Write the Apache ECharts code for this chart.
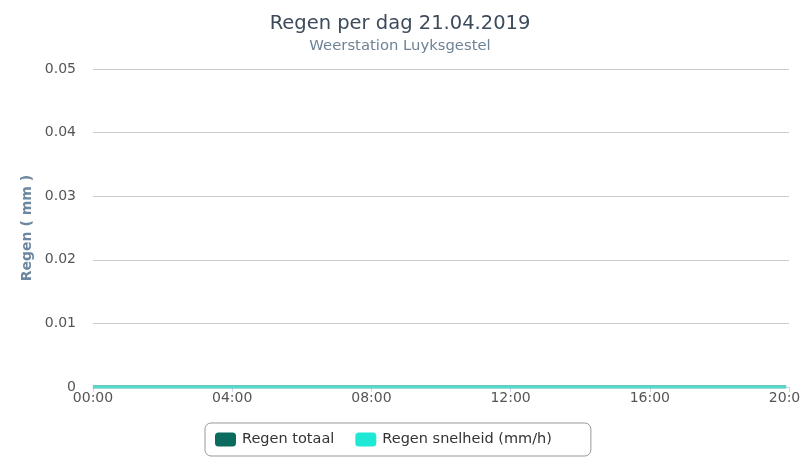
<!DOCTYPE html>
<html>
<head>
<meta charset="utf-8">
<script src="https://cdn.jsdelivr.net/npm/echarts@6/dist/echarts.min.js"></script>
<style>html,body{margin:0;padding:0;background:#fff}#c{width:800px;height:475px}</style>
</head>
<body>
<div id="c"></div>
<script>
var titleText = 'Regen per dag 21.04.2019';
var subtitleText = 'Weerstation Luyksgestel';
var yTicks = ['0', '0.01', '0.02', '0.03', '0.04', '0.05'];
var xTicks = ['00:00', '04:00', '08:00', '12:00', '16:00', '20:00'];
var times = ['00:00','00:30','01:00','01:30','02:00','02:30','03:00','03:30','04:00','04:30',
  '05:00','05:30','06:00','06:30','07:00','07:30','08:00','08:30','09:00','09:30',
  '10:00','10:30','11:00','11:30','12:00','12:30','13:00','13:30','14:00','14:30',
  '15:00','15:30','16:00','16:30','17:00','17:30','18:00','18:30','19:00','19:30','19:55'];
var regenTotaal = [0,0,0,0,0,0,0,0,0,0,0,0,0,0,0,0,0,0,0,0,0,0,0,0,0,0,0,0,0,0,0,0,0,0,0,0,0,0,0,0,0];
var regenSnelheid = [0,0,0,0,0,0,0,0,0,0,0,0,0,0,0,0,0,0,0,0,0,0,0,0,0,0,0,0,0,0,0,0,0,0,0,0,0,0,0,0,0];

function toHours(t) { var p = t.split(':'); return +p[0] + (+p[1]) / 60; }
function pairs(vals) { return times.map(function (t, i) { return [toHours(t), vals[i]]; }); }

var font = 'DejaVu Sans';
var chart = echarts.init(document.getElementById('c'), null, { renderer: 'canvas' });
chart.setOption({
  animation: false,
  backgroundColor: '#fff',
  textStyle: { fontFamily: font },
  title: {
    text: titleText,
    subtext: subtitleText,
    left: 'center',
    top: 9,
    itemGap: 5,
    textStyle: { fontFamily: font, fontSize: 19.5, fontWeight: 'normal', color: '#3d4a5b' },
    subtextStyle: { fontFamily: font, fontSize: 14.8, color: '#6e8396' }
  },
  legend: {
    bottom: 19,
    left: 205,
    icon: 'roundRect',
    itemWidth: 21,
    itemHeight: 14,
    itemGap: 21,
    borderColor: '#999',
    borderWidth: 1,
    borderRadius: 6,
    padding: [9, 39, 9, 10],
    textStyle: { fontFamily: font, fontSize: 14.5, color: '#333', padding: [0, 0, 0, 1] },
    data: [
      { name: 'Regen totaal', itemStyle: { color: '#0a6b5e' } },
      { name: 'Regen snelheid (mm/h)', itemStyle: { color: '#1ee8d6' } }
    ]
  },
  grid: { left: 93, right: 11, top: 69, bottom: 88, containLabel: false, outerBoundsMode: 'none' },
  xAxis: {
    type: 'value',
    min: 0, max: 20, interval: 4,
    axisLine: { show: true, lineStyle: { color: '#ccd6eb', width: 1 } },
    axisTick: { show: true, length: 5, lineStyle: { color: '#ccd6eb' } },
    splitLine: { show: false },
    axisLabel: {
      fontFamily: font, fontSize: 14, color: '#555', margin: 4,
      showMaxLabel: true, hideOverlap: false,
      formatter: function (v) { return xTicks[Math.round(v / 4)] || ''; }
    }
  },
  yAxis: {
    type: 'value',
    min: 0, max: 0.05, interval: 0.01,
    name: 'Regen ( mm )',
    nameLocation: 'middle',
    nameGap: 57,
    nameTextStyle: { fontFamily: font, fontSize: 14, fontWeight: 'bold', color: '#6d87a0' },
    axisLine: { show: false },
    axisTick: { show: false },
    splitLine: { lineStyle: { color: '#cccccc', width: 1 } },
    axisLabel: {
      fontFamily: font, fontSize: 14, color: '#555', margin: 17,
      formatter: function (v) { return yTicks[Math.round(v * 100)]; }
    }
  },
  series: [
    {
      name: 'Regen totaal', type: 'line', data: pairs(regenTotaal),
      showSymbol: false, lineStyle: { color: '#0a6b5e', width: 3 }, itemStyle: { color: '#0a6b5e' }
    },
    {
      name: 'Regen snelheid (mm/h)', type: 'line', data: pairs(regenSnelheid),
      showSymbol: false, lineStyle: { color: '#4fdccc', width: 3 }, itemStyle: { color: '#1ee8d6' }
    }
  ]
});
</script>
</body>
</html>
